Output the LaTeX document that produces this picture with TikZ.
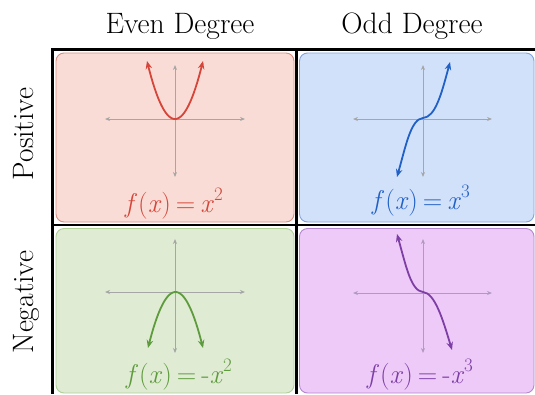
\documentclass[tikz,border=0pt]{standalone}
\usepackage{fontspec}
\usetikzlibrary{arrows.meta}
\definecolor{pinkfill}{HTML}{F9DCD5}
\definecolor{pinkline}{HTML}{DA8E82}
\definecolor{redc}{HTML}{D5453A}
\definecolor{bluefill}{HTML}{D2E1FA}
\definecolor{blueline}{HTML}{82A4DC}
\definecolor{bluec}{HTML}{2160C6}
\definecolor{greenfill}{HTML}{DFEBD3}
\definecolor{greenline}{HTML}{B0D098}
\definecolor{greenc}{HTML}{5E9B3D}
\definecolor{purpfill}{HTML}{EECAF8}
\definecolor{purpline}{HTML}{B488CE}
\definecolor{purpc}{HTML}{7D3FA5}
\definecolor{axisc}{HTML}{A6A6A6}
\definecolor{axisp}{HTML}{B09AC0}
\newcommand{\fx}{\textit{f}\kern1pt(\textit{x})\kern5pt=\kern5pt}
\newcommand{\sqp}[1]{\raisebox{0.42em}{\fontsize{19}{20}\selectfont #1}}
\tikzset{
  cellbox/.style={line width=0.9pt, rounded corners=8pt},
  axisline/.style={draw=axisc, line width=1pt, {Stealth[length=5pt,width=4pt]}-{Stealth[length=5pt,width=4pt]}},
  curveline/.style={line width=1.8pt, {Stealth[length=8pt,width=6.5pt]}-{Stealth[length=8pt,width=6.5pt]}},
  header/.style={font=\fontsize{29.5}{32}\selectfont\addfontfeature{FakeBold=2}, anchor=base, inner sep=0pt},
  formula/.style={font=\fontsize{27}{30}\selectfont\addfontfeature{FakeBold=2}, anchor=base, inner sep=0pt},
  gridline/.style={draw=black, line width=2.2pt}
}
\begin{document}
\begin{tikzpicture}[x=1pt,y=-1pt]
\useasboundingbox[fill=white] (0,0) rectangle (535,394);
% grid
\draw[gridline] (52.5,394) -- (52.5,49.5) -- (535,49.5);
\draw[gridline] (296.5,49.5) -- (296.5,394);
\draw[gridline] (52.5,225) -- (535,225);
% cells
\draw[cellbox, fill=pinkfill, draw=pinkline] (56,53) rectangle (294,222);
\draw[cellbox, fill=bluefill, draw=blueline] (299.5,53) rectangle (534,222);
\draw[cellbox, fill=greenfill, draw=greenline] (56,228.5) rectangle (294,393);
\draw[cellbox, fill=purpfill, draw=purpline] (299.5,228.5) rectangle (534,393);
% headers
\node[header] (even) at (180,33) {Even Degree};
\node[header] (odd) at (412,33) {Odd Degree};
\node[header, rotate=90] (pos) at (33,134) {Positive};
\node[header, rotate=90] (neg) at (33,302) {Negative};
% axes pink
\draw[axisline] (105,119) -- (245,119);
\draw[axisline] (175,65) -- (175,177);
% axes blue
\draw[axisline] (353,119) -- (492,119);
\draw[axisline] (423,65) -- (423,177);
% axes green
\draw[axisline] (105,292) -- (245,292);
\draw[axisline] (175,239) -- (175,353);
% axes purple
\draw[axisline, draw=axisp] (353,293) -- (492,293);
\draw[axisline, draw=axisp] (423,239) -- (423,353);
% curves
\draw[curveline, draw=redc, smooth, samples=60] plot[domain=-1:1] ({175+28*\x},{119-58*\x*\x});
\draw[curveline, draw=bluec] (397,177) .. controls (406,145) and (411,119) .. (423,118) .. controls (435,117) and (441,96) .. (450,62);
\draw[curveline, draw=greenc, smooth, samples=60] plot[domain=-1:1] ({175.5+27.5*\x},{292+56*\x*\x});
\draw[curveline, draw=purpc] (397,234) .. controls (406,266) and (411,291) .. (423,292) .. controls (435,293) and (443,320) .. (452,350);
% formulas
\node[formula, text=redc] (fa) at (174,212) {\fx\textit{x}\sqp{2}};
\node[formula, text=bluec] (fb) at (421,209) {\fx\textit{x}\sqp{3}};
\node[formula, text=greenc] (fc) at (179,383) {\fx-\textit{x}\sqp{2}};
\node[formula, text=purpc] (fd) at (420,383) {\fx-\textit{x}\sqp{3}};
\end{tikzpicture}
\end{document}
